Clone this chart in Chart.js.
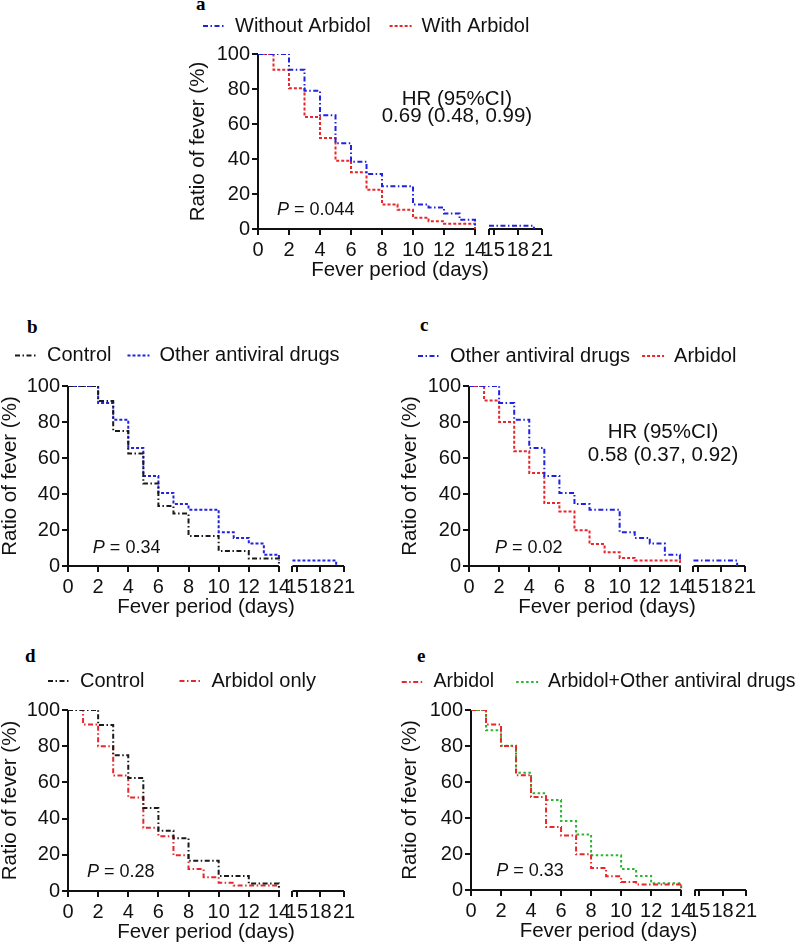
<!DOCTYPE html>
<html>
<head>
<meta charset="utf-8">
<script src="https://cdn.jsdelivr.net/npm/chart.js@4.4.1/dist/chart.umd.min.js"></script>
<style>
  html, body { margin: 0; padding: 0; background: #fff; }
  body { width: 797px; height: 946px; position: relative; overflow: hidden; }
  .panel { position: absolute; }
  .tag { position: absolute; font: bold 19px "Liberation Serif", "Times New Roman", serif; line-height: 19px; color: #000; }
</style>
</head>
<body>
<div class="tag" style="left:196px;top:-6px">a</div>
<div class="tag" style="left:27px;top:317px">b</div>
<div class="tag" style="left:420px;top:315px">c</div>
<div class="tag" style="left:25px;top:646px">d</div>
<div class="tag" style="left:417px;top:646px">e</div>

<div class="panel" id="pa"><canvas id="ca"></canvas></div>
<div class="panel" id="pb"><canvas id="cb"></canvas></div>
<div class="panel" id="pc"><canvas id="cc"></canvas></div>
<div class="panel" id="pd"><canvas id="cd"></canvas></div>
<div class="panel" id="pe"><canvas id="ce"></canvas></div>

<script>
// days at which the curves can step (0..14)
const days = [0, 1, 2, 3, 4, 5, 6, 7, 8, 9, 10, 11, 12, 13, 14];

// ratio of fever (%) after each day
const withoutArbidol   = [100, 100, 91, 79, 65, 49, 38.5, 31.5, 24.5, 24.5, 14, 12.3, 8.8, 5.3, 1.8];
const withArbidol      = [100, 91, 80.5, 64, 52, 39, 32.5, 22.5, 14, 11, 6.5, 4.5, 3, 3, 0];
const control          = [100, 100, 91.7, 75, 62.5, 45.8, 33.3, 29.2, 16.7, 16.7, 8.3, 8.3, 4.2, 4.2, 0];
const otherAntiviral   = [100, 100, 90.6, 81.3, 65.6, 50, 40.6, 34.4, 31.3, 31.3, 18.8, 15.6, 12.5, 6.3, 3.1];
const arbidolOnly      = [100, 92, 80, 63.8, 51.7, 35, 30.3, 19.8, 12.2, 7.6, 4.5, 3.1, 3.1, 3.1, 0];
const arbidolPlusOther = [100, 88.7, 80.2, 65.2, 53.7, 50, 38.3, 30.9, 19.3, 19.3, 11.7, 7.8, 3.7, 3.7, 0];

// part after the axis break: [level, day it ends]
const withoutArbidolTail = [1.8, 20];
const otherAntiviralTail = [3.1, 20];

// axis ticks
const tickDays   = [0, 2, 4, 6, 8, 10, 12, 14, 14.42, 15, 18, 21];
const tickLabels = ['0', '2', '4', '6', '8', '10', '12', '14', '', '15', '18', '21'];
const yTicks = [0, 20, 40, 60, 80, 100];

const BREAK_FROM = 14, BREAK_TO = 14.42;

// axis is broken after day 14, the rest is squeezed
function axisPos(day) {
    return day <= BREAK_FROM ? day : 15.2 + (day - 15) * 0.52;
}

function kmPoints(values, tail) {
    const pts = values.map((v, i) => ({ x: axisPos(days[i]), y: v }));
    if (tail) {
        pts.push({ x: axisPos(14.2), y: null });
        pts.push({ x: axisPos(BREAK_TO), y: tail[0] });
        pts.push({ x: axisPos(tail[1]), y: 0 });
    }
    return pts;
}

const FONT = '"Liberation Sans", Arial, sans-serif';
Chart.defaults.font.family = FONT;
Chart.defaults.color = '#111';

const BLUE = '#2121e0', RED = '#e8262b', BLACK = '#1a1a1a', GREEN = '#2db52f';
const DASH_DOT = [5, 2.5, 1.5, 2.5];
const DOTS = [3, 2];

const brokenAxis = {
    id: 'brokenAxis',
    beforeDatasetsDraw(chart) {
        const { ctx, scales: { x, y } } = chart;
        const y0 = y.getPixelForValue(0);
        const x0 = x.getPixelForValue(0);
        ctx.save();
        ctx.strokeStyle = '#111';
        ctx.lineWidth = 2;
        ctx.beginPath();
        ctx.moveTo(x0, y.getPixelForValue(100));
        ctx.lineTo(x0, y0);
        ctx.lineTo(x.getPixelForValue(axisPos(BREAK_FROM)), y0);
        ctx.moveTo(x.getPixelForValue(axisPos(BREAK_TO)), y0);
        ctx.lineTo(x.getPixelForValue(axisPos(21)), y0);
        ctx.stroke();
        ctx.restore();
    }
};

const notes = {
    id: 'notes',
    afterDatasetsDraw(chart, args, opts) {
        const { ctx, scales: { x, y } } = chart;
        ctx.save();
        ctx.fillStyle = '#111';
        ctx.textBaseline = 'middle';
        (opts.items || []).forEach(n => {
            const px = x.getPixelForValue(n.x), py = y.getPixelForValue(n.y);
            if (n.p) {
                ctx.textAlign = 'left';
                ctx.font = 'italic 18px ' + FONT;
                ctx.fillText('P', px, py);
                const w = ctx.measureText('P').width;
                ctx.font = '18px ' + FONT;
                ctx.fillText(' = ' + n.text, px + w, py);
            } else {
                ctx.textAlign = 'center';
                ctx.font = '20.5px ' + FONT;
                ctx.fillText(n.text, px, py);
            }
        });
        ctx.restore();
    }
};

// fixed legend height, and legend moved where the figure has it
const legendPlace = {
    id: 'legendPlace',
    beforeInit(chart) {
        const fit = chart.legend.fit;
        chart.legend.fit = function () {
            fit.bind(chart.legend)();
            this.height = 50;
        };
    },
    afterLayout(chart, args, opts) {
        const lg = chart.legend;
        const pad = lg.options.labels.padding;
        lg.left = opts.x - pad;
        lg.right = lg.left + 2000;
        lg.top = opts.y - pad - lg.options.labels.font.size / 2;
    }
};

// legend samples keep the dash of their line
function dashedLabels(chart) {
    return Chart.defaults.plugins.legend.labels.generateLabels(chart).map(item => {
        item.lineDash = chart.data.datasets[item.datasetIndex].borderDash;
        return item;
    });
}

function makePanel(id, box, series, items) {
    const wrap = document.getElementById('p' + id);
    wrap.style.left = box.left + 'px';
    wrap.style.top = box.top + 'px';
    wrap.style.width = box.width + 'px';
    wrap.style.height = box.height + 'px';

    return new Chart(document.getElementById('c' + id), {
        type: 'line',
        data: {
            datasets: series.map(s => ({
                label: s.label,
                data: kmPoints(s.values, s.tail),
                borderColor: s.color,
                backgroundColor: s.color,
                borderDash: s.dash,
                borderWidth: 2,
                stepped: true,
                pointRadius: 0,
                fill: false
            }))
        },
        options: {
            responsive: true,
            maintainAspectRatio: false,
            animation: false,
            devicePixelRatio: 1,
            layout: { padding: { left: 0, top: 0, right: box.pr || 30, bottom: 0 } },
            plugins: {
                tooltip: { enabled: false },
                legend: {
                    position: 'top',
                    align: 'start',
                    labels: {
                        usePointStyle: true,
                        pointStyle: 'line',
                        pointStyleWidth: 22,
                        padding: box.gap,
                        font: { size: box.lf || 20 },
                        color: '#111',
                        generateLabels: dashedLabels
                    }
                },
                // legend position is given in page pixels
                legendPlace: { x: box.lx - box.left, y: box.ly - box.top },
                notes: { items: items }
            },
            scales: {
                x: {
                    type: 'linear',
                    min: 0,
                    max: axisPos(21),
                    afterBuildTicks: s => { s.ticks = tickDays.map(d => ({ value: axisPos(d) })); },
                    afterFit: s => { s.height = 52; },
                    ticks: {
                        autoSkip: false,
                        maxRotation: 0,
                        padding: 3,
                        font: { size: 20 },
                        color: '#111',
                        callback: (v, i) => tickLabels[i]
                    },
                    grid: { drawOnChartArea: false, tickLength: 6, color: '#111', lineWidth: 2 },
                    border: { display: false },
                    title: { display: true, text: 'Fever period (days)', font: { size: 20.5, lineHeight: 1 }, color: '#111', padding: 0 }
                },
                y: {
                    min: 0,
                    max: 100,
                    afterBuildTicks: s => { s.ticks = yTicks.map(v => ({ value: v })); },
                    afterFit: s => { s.width = box.yw; },
                    ticks: { padding: 2, font: { size: 20 }, color: '#111' },
                    grid: { drawOnChartArea: false, tickLength: 6, color: '#111', lineWidth: 2 },
                    border: { display: false },
                    title: { display: true, text: 'Ratio of fever (%)', font: { size: 20.5, lineHeight: 1 }, color: '#111', padding: 0 }
                }
            }
        },
        plugins: [brokenAxis, notes, legendPlace]
    });
}

makePanel('a', { left: 188, top: 4, width: 384, height: 277, yw: 70, lx: 203, ly: 26, gap: 19 }, [
    { label: 'Without Arbidol', values: withoutArbidol, tail: withoutArbidolTail, color: BLUE, dash: DASH_DOT },
    { label: 'With Arbidol', values: withArbidol, color: RED, dash: DOTS }
], [
    { x: 12.83, y: 74, text: 'HR (95%CI)' },
    { x: 12.83, y: 64.5, text: '0.69 (0.48, 0.99)' },
    { x: 1.22, y: 10.6, p: true, text: '0.044' }
]);

makePanel('b', { left: 0, top: 336, width: 374, height: 282, yw: 68, lx: 15, ly: 355.5, gap: 16 }, [
    { label: 'Control', values: control, color: BLACK, dash: DASH_DOT },
    { label: 'Other antiviral drugs', values: otherAntiviral, tail: otherAntiviralTail, color: BLUE, dash: DOTS }
], [
    { x: 1.65, y: 10, p: true, text: '0.34' }
]);

makePanel('c', { left: 400, top: 336, width: 375, height: 282, yw: 69, lx: 418, ly: 356, gap: 12 }, [
    { label: 'Other antiviral drugs', values: otherAntiviral, tail: otherAntiviralTail, color: BLUE, dash: DASH_DOT },
    { label: 'Arbidol', values: arbidolOnly, color: RED, dash: DOTS }
], [
    { x: 12.88, y: 74.2, text: 'HR (95%CI)' },
    { x: 12.88, y: 61.2, text: '0.58 (0.37, 0.92)' },
    { x: 1.72, y: 10, p: true, text: '0.02' }
]);

makePanel('d', { left: 0, top: 660, width: 374, height: 283, yw: 68, lx: 48, ly: 681, gap: 35 }, [
    { label: 'Control', values: control, color: BLACK, dash: DASH_DOT },
    { label: 'Arbidol only', values: arbidolOnly, color: RED, dash: DASH_DOT }
], [
    { x: 1.26, y: 10.5, p: true, text: '0.28' }
]);

makePanel('e', { left: 400, top: 660, width: 400, height: 282, pr: 54, yw: 71, lx: 401.7, ly: 682, gap: 22, lf: 19.5 }, [
    { label: 'Arbidol', values: arbidolOnly, color: RED, dash: DASH_DOT },
    { label: 'Arbidol+Other antiviral drugs', values: arbidolPlusOther, color: GREEN, dash: [2.5, 2.5] }
], [
    { x: 1.68, y: 10.5, p: true, text: '0.33' }
]);
</script>
</body>
</html>
